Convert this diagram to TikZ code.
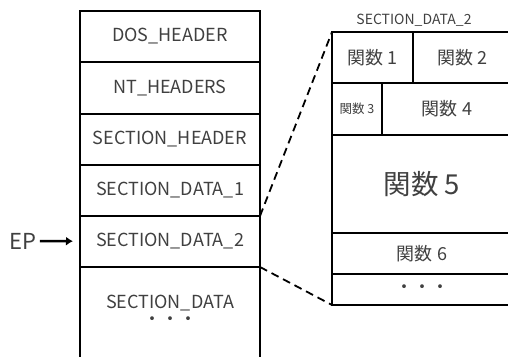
\documentclass[tikz,border=0pt]{standalone}
\usepackage{fontspec}
\setmainfont{Noto Sans CJK JP}
\usetikzlibrary{arrows.meta}

\tikzset{
  cell/.style={draw,rectangle,line width=1.8pt,inner sep=0pt,outer sep=0pt,text=black!75},
  pecell/.style={cell,minimum width=180pt,minimum height=51pt,font=\fontsize{18}{20}\selectfont},
  fncell/.style={cell,font=\fontsize{18}{20}\selectfont},
  zoomline/.style={line width=1.8pt,dash pattern=on 8pt off 5pt}
}

\begin{document}
\begin{tikzpicture}[x=1pt,y=-1pt]
\useasboundingbox (0,0) rectangle (508,356);

% PE file layout
\node [pecell] (dos) at(170,36.5){DOS\_HEADER};
\node [pecell] (nt) at(170,88){NT\_HEADERS};
\node [pecell] (sh) at(170,139.5){SECTION\_HEADER};
\node [pecell] (sd1) at(170,190.5){SECTION\_DATA\_1};
\node [pecell] (sd2) at(170,241.5){SECTION\_DATA\_2};
\draw[line width=1.8pt] (sd2.south west) -- (80,362) (sd2.south east) -- (260,362);
\node [font=\fontsize{18}{20}\selectfont,text=black!75,align=center] (sd) at(170,310){SECTION\_DATA\\[-3pt]・・・};

\node [font=\fontsize{22}{24}\selectfont,text=black!75] (ep) at(23,241){EP};
\draw[line width=2.4pt,-{Latex[length=7pt,width=9pt]},shorten >=7pt](ep) -- (sd2);

% inside SECTION_DATA_2
\node [font=\fontsize{14}{16}\selectfont,text=black!75] (title) at(414,20){SECTION\_DATA\_2};
\node [fncell,minimum width=81pt,minimum height=51pt] (f1) at(372.5,57.5){関数 1};
\node [fncell,minimum width=99pt,minimum height=51pt] (f2) at(462.5,57.5){関数 2};
\node [fncell,minimum width=50pt,minimum height=52pt,font=\fontsize{12.5}{14}\selectfont] (f3) at(357,109){関数 3};
\node [fncell,minimum width=130pt,minimum height=52pt] (f4) at(447,109){関数 4};
\node [fncell,minimum width=180pt,minimum height=98pt,font=\fontsize{27.5}{30}\selectfont] (f5) at(422,184){関数 5};
\node [fncell,minimum width=180pt,minimum height=41pt] (f6) at(422,253.5){関数 6};
\node [fncell,minimum width=180pt,minimum height=31pt] (more) at(422,289.5){・・・};

\draw[zoomline](sd2.north east) -- (f1.north west);
\draw[zoomline](sd2.south east) -- (more.south west);
\end{tikzpicture}
\end{document}
